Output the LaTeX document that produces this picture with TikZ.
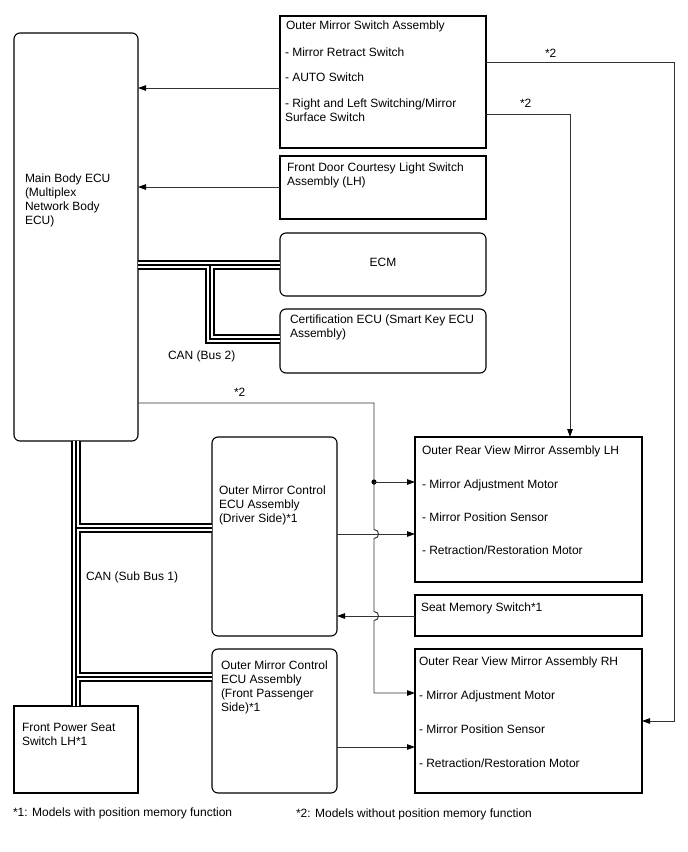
\documentclass[tikz,border=0pt]{standalone}
\usepackage{fontspec}
\setmainfont{Liberation Sans}
\usetikzlibrary{arrows.meta}
\begin{document}
\begin{tikzpicture}[x=1pt,y=-1pt,
  bx/.style={draw=black, line width=1.1pt, inner sep=0pt, outer sep=0pt, anchor=north west},
  rbx/.style={bx, rounded corners=6pt},
  txt/.style={inner sep=0pt, outer sep=0pt, anchor=base west, align=left, font=\fontsize{12}{14.2}\selectfont},
  conn/.style={draw=black!80, line width=0.95pt},
  arr/.style={conn, -{Triangle[length=8pt,width=5.5pt,color=black]}}
]
\useasboundingbox[fill=white] (0,0) rectangle (688,852);

% boxes
\node[rbx, minimum width=124pt, minimum height=408pt] (ecu) at (14,33) {};
\node[bx, minimum width=206pt, minimum height=132pt] (sw) at (280,16) {};
\node[bx, minimum width=206pt, minimum height=63pt] (door) at (280,156) {};
\node[rbx, minimum width=206pt, minimum height=63pt] (ecm) at (280,233) {};
\node[rbx, minimum width=206pt, minimum height=64pt] (cert) at (280,309) {};
\node[rbx, minimum width=125pt, minimum height=199pt] (drv) at (212,437) {};
\node[rbx, minimum width=125pt, minimum height=144pt] (pas) at (212,649) {};
\node[bx, minimum width=227pt, minimum height=145pt] (lh) at (415,437) {};
\node[bx, minimum width=227pt, minimum height=41pt] (seat) at (415,595) {};
\node[bx, minimum width=227pt, minimum height=144pt] (rh) at (415,649) {};
\node[bx, minimum width=124pt, minimum height=87pt] (fps) at (14,706) {};

% texts (multi-line nodes: base = last line)
\node[txt] (tecu) at (25,224.6) {Main Body ECU\\(Multiplex\\Network Body\\ECU)};
\node[txt] (tsw0) at (286,29) {Outer Mirror Switch Assembly};
\node[txt] (tsw1) at (285,56) {- Mirror Retract Switch};
\node[txt] (tsw2) at (285,81) {- AUTO Switch};
\node[txt] (tsw3) at (285,121.6) {- Right and Left Switching/Mirror\\Surface Switch};
\node[txt] (tdoor) at (287,185.7) {Front Door Courtesy Light Switch\\Assembly (LH)};
\node[txt, anchor=base] (tecm) at (383,266) {ECM};
\node[txt] (tcert) at (290,337.7) {Certification ECU (Smart Key ECU\\Assembly)};
\node[txt] (tbus2) at (168,359.5) {CAN (Bus 2)};
\node[txt] (ta) at (234,396) {*2};
\node[txt] (tb) at (545,57) {*2};
\node[txt] (tc) at (520,107) {*2};
\node[txt] (tlh0) at (422,454.5) {Outer Rear View Mirror Assembly LH};
\node[txt] (tlh1) at (422,488) {- Mirror Adjustment Motor};
\node[txt] (tlh2) at (422,521) {- Mirror Position Sensor};
\node[txt] (tlh3) at (422,554.5) {- Retraction/Restoration Motor};
\node[txt] (tseat) at (421,611.5) {Seat Memory Switch*1};
\node[txt] (trh0) at (419,665.5) {Outer Rear View Mirror Assembly RH};
\node[txt] (trh1) at (419,699) {- Mirror Adjustment Motor};
\node[txt] (trh2) at (419,733) {- Mirror Position Sensor};
\node[txt] (trh3) at (419,767.5) {- Retraction/Restoration Motor};
\node[txt] (tdrv) at (219,522.4) {Outer Mirror Control\\ECU Assembly\\(Driver Side)*1};
\node[txt] (tpas) at (221,711.6) {Outer Mirror Control\\ECU Assembly\\(Front Passenger\\Side)*1};
\node[txt] (tfps) at (22,745.2) {Front Power Seat\\Switch LH*1};
\node[txt] (tsub) at (86,580.5) {CAN (Sub Bus 1)};
\node[txt] (tn1) at (13,816.5) {*1: Models with position memory function};
\node[txt] (tn2) at (296,817) {*2: Models without position memory function};

% helper coordinates
\coordinate (y62) at (0,62);
\coordinate (y88) at (0,88);
\coordinate (y114) at (0,114);
\coordinate (y187) at (0,187);
\coordinate (y265) at (0,265);
\coordinate (y339) at (0,339);
\coordinate (y403) at (0,403);
\coordinate (y482) at (0,482);
\coordinate (y528) at (0,528);
\coordinate (y534) at (0,534);
\coordinate (y616) at (0,616);
\coordinate (y677) at (0,677);
\coordinate (y693) at (0,693);
\coordinate (y721) at (0,721);
\coordinate (y747) at (0,747);
\coordinate (br) at (210,265);
\coordinate (brc) at (210,339);
\coordinate (sb1) at (76,528);
\coordinate (sb2) at (76,677);
\coordinate (jd) at (374,482);
\coordinate (r1) at (674,62);
\coordinate (r1b) at (674,721);
\coordinate (r2) at (570,114);

% CAN buses
\foreach \w/\c in {9.5/black,6.5/white,1.5/black}{
  \draw[line width=\w pt, \c]
    (ecu.east |- y265) -- (ecm.west |- y265)
    (br) -- (brc) -- (cert.west |- y339)
    (ecu.south) -- (fps.north)
    (sb1) -- (drv.west |- y528)
    (sb2) -- (pas.west |- y677);
}

% connectors
\draw[arr] (sw.west |- y88) -- (ecu.east |- y88);
\draw[arr] (door.west |- y187) -- (ecu.east |- y187);
\draw[arr] (sw.east |- y62) -- (r1) -- (r1b) -- (rh.east |- y721);
\draw[arr] (sw.east |- y114) -- (r2) -- (lh.north -| r2);
\draw[arr] (ecu.east |- y403) -- (374,403) -- (374,529.5)
  .. controls (380,529.5) and (380,538.5) .. (374,538.5) -- (374,611.5)
  .. controls (380,611.5) and (380,620.5) .. (374,620.5) -- (374,693) -- (rh.west |- y693);
\fill[black] (jd) circle (2.6pt);
\draw[arr] (jd) -- (lh.west |- y482);
\draw[arr] (drv.east |- y534) -- (lh.west |- y534);
\draw[arr] (seat.west |- y616) -- (drv.east |- y616);
\draw[arr] (pas.east |- y747) -- (rh.west |- y747);
\end{tikzpicture}
\end{document}
